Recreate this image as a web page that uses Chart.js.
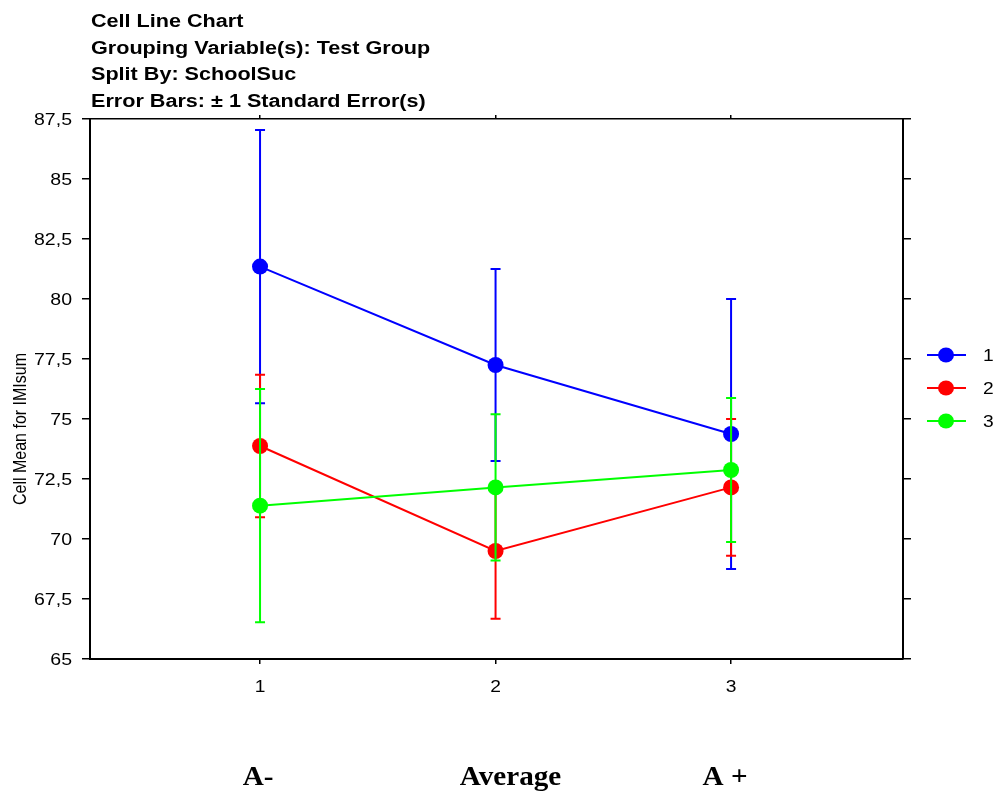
<!DOCTYPE html>
<html>
<head>
<meta charset="utf-8">
<script src="https://cdn.jsdelivr.net/npm/chart.js@4/dist/chart.umd.min.js"></script>
<style>
  html, body { margin: 0; padding: 0; background: #fff; }
  #wrap { width: 998px; height: 792px; }
</style>
</head>
<body>
<div id="wrap"><canvas id="c" width="998" height="792"></canvas></div>
<script>
// ---- data ----
const categories = [1, 2, 3];
const categoryNames = ['A-', 'Average', 'A +'];
const seriesNames = ['1', '2', '3'];
const means1 = [81.35, 77.25, 74.375];
const se1 = [5.69, 4.0, 5.63];
const means2 = [73.875, 69.5, 72.15];
const se2 = [2.97, 2.82, 2.85];
const means3 = [71.39, 72.15, 72.875];
const se3 = [4.86, 3.05, 3.0];
const yTicks = [65, 67.5, 70, 72.5, 75, 77.5, 80, 82.5, 85, 87.5];
const yTickLabels = ['65', '67,5', '70', '72,5', '75', '77,5', '80', '82,5', '85', '87,5'];
const xTickLabels = ['1', '2', '3'];
const titleLines = ['Cell Line Chart', 'Grouping Variable(s): Test Group', 'Split By: SchoolSuc', 'Error Bars: \u00b1 1 Standard Error(s)'];
const yTitle = 'Cell Mean for IMIsum';

const colors = ['#0000ff', '#ff0000', '#00ff00'];
const allMeans = [means1, means2, means3];
const allSE = [se1, se2, se3];

const SANS = '"Liberation Sans", Arial, sans-serif';
const SERIF = '"Liberation Serif", "Times New Roman", serif';

function drawText(ctx, text, x, y, font, align, sx) {
  ctx.save();
  ctx.translate(x, y);
  ctx.scale(sx || 1, 1);
  ctx.font = font;
  ctx.fillStyle = '#000';
  ctx.textAlign = align || 'left';
  ctx.textBaseline = 'alphabetic';
  ctx.fillText(text, 0, 0);
  ctx.restore();
}

const datasets = seriesNames.map((name, i) => ({
  label: name,
  data: categories.map((c, j) => ({ x: c, y: allMeans[i][j] })),
  borderColor: colors[i],
  backgroundColor: colors[i],
  pointBackgroundColor: colors[i],
  pointBorderColor: colors[i],
  pointRadius: 8,
  pointBorderWidth: 0,
  borderWidth: 2,
  tension: 0,
  fill: false,
  clip: false,
  order: seriesNames.length - i
}));

const fixedTicks = (vals) => (scale) => { scale.ticks = vals.map(v => ({ value: v })); };

const annotPlugin = {
  id: 'annot',
  beforeDatasetDraw(chart, args) {
    const i = args.index;
    const ctx = chart.ctx;
    const xs = chart.scales.x, ys = chart.scales.y;
    ctx.save();
    ctx.strokeStyle = colors[i];
    ctx.lineWidth = 2;
    allMeans[i].forEach((m, j) => {
      const x = xs.getPixelForValue(categories[j]);
      const yt = ys.getPixelForValue(m + allSE[i][j]);
      const yb = ys.getPixelForValue(m - allSE[i][j]);
      ctx.beginPath();
      ctx.moveTo(x, yt); ctx.lineTo(x, yb);
      ctx.moveTo(x - 5, yt); ctx.lineTo(x + 5, yt);
      ctx.moveTo(x - 5, yb); ctx.lineTo(x + 5, yb);
      ctx.stroke();
    });
    ctx.restore();
  },
  afterDraw(chart) {
    const ctx = chart.ctx;
    const xs = chart.scales.x, ys = chart.scales.y;
    const area = chart.chartArea;
    // titles
    titleLines.forEach((t, i) => {
      drawText(ctx, t, 91, 27 + i * 26.7, 'bold 18px ' + SANS, 'left', 1.2);
    });
    // y tick labels
    yTicks.forEach((v, i) => {
      drawText(ctx, yTickLabels[i], area.left - 18, ys.getPixelForValue(v) + 6, '16px ' + SANS, 'right', 1.22);
    });
    // x tick labels
    categories.forEach((c, i) => {
      drawText(ctx, xTickLabels[i], xs.getPixelForValue(c), area.bottom + 33, '16px ' + SANS, 'center', 1.2);
    });
    // y title
    ctx.save();
    ctx.translate(26, (area.top + area.bottom) / 2 + 40);
    ctx.scale(1.2, 1);
    ctx.rotate(-Math.PI / 2);
    ctx.font = '16px ' + SANS;
    ctx.fillStyle = '#000';
    ctx.textAlign = 'center';
    ctx.fillText(yTitle, 0, 0);
    ctx.restore();
    // category names below
    const nameOffsets = [-2, 15, -6];
    categories.forEach((c, i) => {
      drawText(ctx, categoryNames[i], xs.getPixelForValue(c) + nameOffsets[i], 785, 'bold 27px ' + SERIF, 'center', 1.08);
    });
    // legend
    const legY0 = 355, legStep = 33;
    seriesNames.forEach((n, i) => {
      const y = legY0 + i * legStep;
      ctx.save();
      ctx.strokeStyle = colors[i];
      ctx.lineWidth = 2;
      ctx.beginPath(); ctx.moveTo(927, y); ctx.lineTo(966, y); ctx.stroke();
      ctx.fillStyle = colors[i];
      ctx.beginPath(); ctx.ellipse(946, y, 8, 7.5, 0, 0, Math.PI * 2); ctx.fill();
      ctx.restore();
      drawText(ctx, n, 983, y + 6, '16px ' + SANS, 'left', 1.2);
    });
  }
};

const gridOpts = (len) => ({ display: true, drawOnChartArea: false, drawTicks: true, tickLength: len, color: '#000', lineWidth: 1.5, tickColor: '#000', tickWidth: 1.5 });
const borderOpts = { display: true, color: '#000', width: 2 };

new Chart(document.getElementById('c'), {
  type: 'line',
  data: { datasets },
  plugins: [annotPlugin],
  options: {
    responsive: false,
    animation: false,
    events: [],
    layout: { padding: 0 },
    plugins: { legend: { display: false }, tooltip: { enabled: false }, title: { display: false } },
    scales: {
      x: {
        type: 'linear', position: 'bottom', min: 0.278, max: 3.73,
        afterBuildTicks: fixedTicks(categories),
        afterFit: (s) => { s.height = 133; },
        ticks: { display: false },
        grid: gridOpts(5), border: borderOpts
      },
      x2: {
        type: 'linear', position: 'top', min: 0.278, max: 3.73,
        afterBuildTicks: fixedTicks(categories),
        afterFit: (s) => { s.height = 119; },
        ticks: { display: false },
        grid: gridOpts(4), border: { display: true, color: '#000', width: 1.5 }
      },
      y: {
        type: 'linear', position: 'left', min: 65, max: 87.5,
        afterBuildTicks: fixedTicks(yTicks),
        afterFit: (s) => { s.width = 90; },
        ticks: { display: false },
        grid: gridOpts(8), border: borderOpts
      },
      y2: {
        type: 'linear', position: 'right', min: 65, max: 87.5,
        afterBuildTicks: fixedTicks(yTicks),
        afterFit: (s) => { s.width = 95; },
        ticks: { display: false },
        grid: gridOpts(8), border: borderOpts
      }
    }
  }
});
</script>
</body>
</html>
